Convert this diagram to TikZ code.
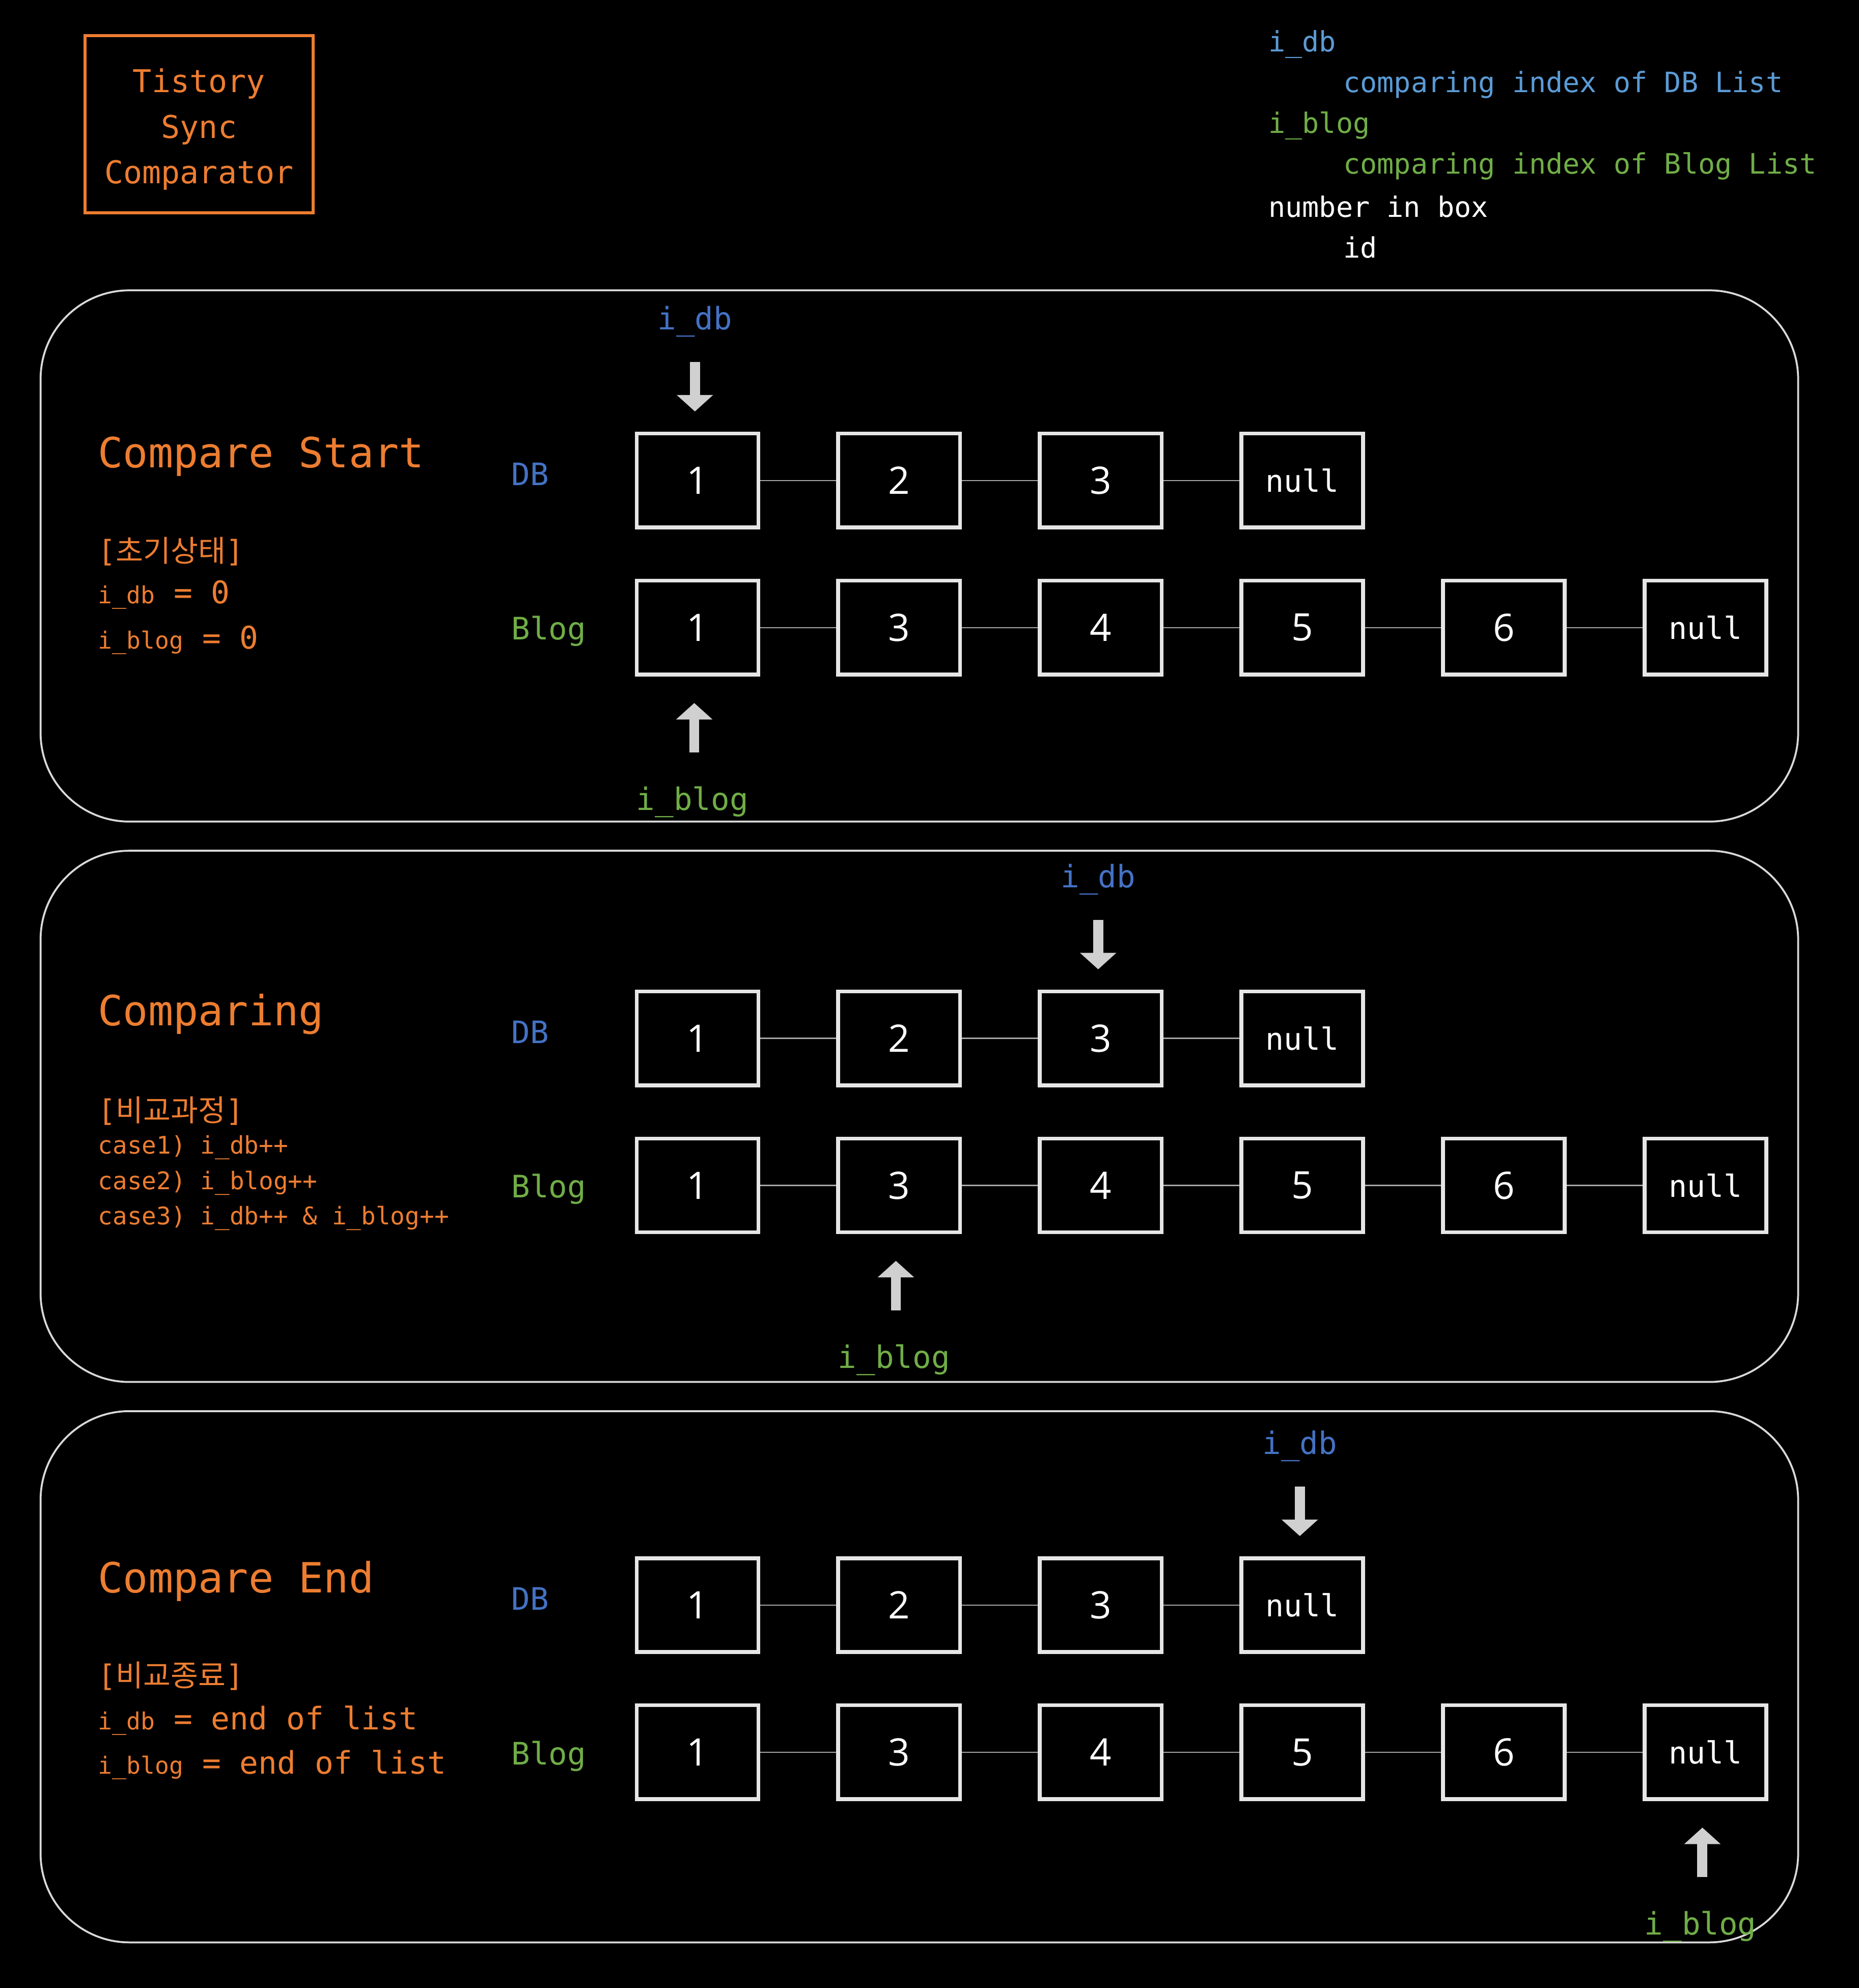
\documentclass[tikz,border=0pt]{standalone}
\usepackage{fontspec}
\setmonofont{DejaVu Sans Mono}
\newfontfamily\krfont{Noto Sans CJK KR}
\newfontfamily\numfont{Open Sans}
\usetikzlibrary{arrows.meta}
\definecolor{orng}{HTML}{ED7D31}
\definecolor{dbblue}{HTML}{4472C4}
\definecolor{legblue}{HTML}{5B9BD5}
\definecolor{bloggreen}{HTML}{70AD47}
\definecolor{panelgray}{HTML}{D9D9D9}
\definecolor{cellgray}{HTML}{E6E6E6}
\definecolor{linkgray}{HTML}{A6A6A6}
\definecolor{ptrgray}{HTML}{D0D0D0}
\newcommand\kr[1]{{\krfont #1}}
\newcommand\smtxt[1]{{\fontsize{10.6}{13}\selectfont #1}}
\newcommand\nul{{\ttfamily\fontsize{13.7}{16}\selectfont null}}

\begin{document}
\begin{tikzpicture}[x=0.02cm, y=-0.02cm,
    panel/.style={draw=panelgray, line width=0.03cm, rounded corners=1.4cm},
    cell/.style={draw=cellgray, line width=0.06cm, minimum width=1.92cm, minimum height=1.48cm, inner sep=0pt, text=white, font=\numfont\fontsize{17}{20}\selectfont},
    link/.style={draw=linkgray, line width=0.02cm},
    ptr/.style={draw=ptrgray, line width=0.16cm, -{Triangle[width=0.56cm,length=0.26cm]}},
    idx/.style={inner sep=0pt, font=\ttfamily\fontsize{13.9}{16}\selectfont},
    lst/.style={anchor=west, inner sep=0pt, font=\ttfamily\fontsize{13.9}{16}\selectfont},
    head/.style={anchor=west, inner sep=0pt, text=orng, font=\ttfamily\fontsize{18.7}{22}\selectfont},
    note/.style={anchor=west, inner sep=0pt, text=orng, font=\ttfamily\fontsize{14}{17}\selectfont},
    legend/.style={anchor=west, inner sep=0pt, font=\ttfamily\fontsize{12.6}{15}\selectfont}]
  % background
  \fill[black] (0,0) rectangle (1466,1568);
  \useasboundingbox (0,0) rectangle (1466,1568);

  % title and legend
  \node[draw=orng, line width=0.05cm, minimum width=3.6cm, minimum height=2.8cm] (title) at (157,98) {};
  \node[align=center, text=orng, inner sep=0pt, font=\ttfamily\fontsize{14.1}{20.4}\selectfont] (ttl) at (157,102) {Tistory\\Sync\\Comparator};
  \node[legend, text=legblue] (lg1) at (1000,35) {i\_db};
  \node[legend, text=legblue] (lg2) at (1059,67) {comparing index of DB List};
  \node[legend, text=bloggreen] (lg3) at (1000,99) {i\_blog};
  \node[legend, text=bloggreen] (lg4) at (1059,131) {comparing index of Blog List};
  \node[legend, text=white] (lg5) at (1000,163) {number in box};
  \node[legend, text=white] (lg6) at (1059,195) {id};

  % panels with the two lists
  \foreach \top/\p/\dy/\by in {229/1/379/495, 671/2/819/935, 1113/3/1266/1382} {
    \draw[panel] (32,\top) rectangle (1418,\top+419);
    \node[lst, text=dbblue] (ldb\p) at (403,\dy-5) {DB};
    \node[lst, text=bloggreen] (lbl\p) at (403,\by+3) {Blog};
    \foreach \v [count=\i] in {1,2,3,\nul}
      \node[cell] (d\p\i) at (391+159*\i,\dy) {\raisebox{-0.05cm}{\v}};
    \foreach \v [count=\i] in {1,3,4,5,6,\nul}
      \node[cell] (b\p\i) at (391+159*\i,\by) {\raisebox{-0.05cm}{\v}};
    \foreach \i [evaluate=\i as \j using int(\i+1)] in {1,2,3}
      \draw[link] (d\p\i) -- (d\p\j);
    \foreach \i [evaluate=\i as \j using int(\i+1)] in {1,...,5}
      \draw[link] (b\p\i) -- (b\p\j);
  }

  % index pointers
  \foreach \p/\a/\b in {1/1/1, 2/3/2, 3/4/6} {
    \node[idx, text=dbblue, yshift=1.74cm, xshift=-0.04cm] (pd\p) at (d\p\a.north) {i\_db};
    \draw[ptr, shorten <=0.64cm, shorten >=0.32cm] (pd\p.center) -- (pd\p.center |- d\p\a.north);
    \node[idx, text=bloggreen, yshift=-1.98cm, xshift=-0.08cm] (pb\p) at (b\p\b.south) {i\_blog};
    \draw[ptr, shorten <=0.78cm, shorten >=0.42cm] (pb\p.center) ++(0.03cm,0) coordinate (pt\p) -- (pt\p |- b\p\b.south);
  }

  % panel texts
  \node[head] (hd1) at (77,360) {Compare Start};
  \node[note, font=\ttfamily\fontsize{13.4}{15}\selectfont] (nt11) at (77,435) {[\kr{초기상태}]};
  \node[note] (nt12) at (77,469) {\smtxt{i\_db} = 0};
  \node[note] (nt13) at (77,505) {\smtxt{i\_blog} = 0};

  \node[head] (hd2) at (77,800) {Comparing};
  \node[note, font=\ttfamily\fontsize{13.4}{15}\selectfont] (nt21) at (77,876) {[\kr{비교과정}]};
  \node[note, font=\ttfamily\fontsize{10.9}{13}\selectfont] (nt22) at (77,905) {case1) i\_db++};
  \node[note, font=\ttfamily\fontsize{10.9}{13}\selectfont] (nt23) at (77,933) {case2) i\_blog++};
  \node[note, font=\ttfamily\fontsize{10.9}{13}\selectfont] (nt24) at (77,961) {case3) i\_db++ \& i\_blog++};

  \node[head] (hd3) at (77,1247) {Compare End};
  \node[note, font=\ttfamily\fontsize{13.4}{15}\selectfont] (nt31) at (77,1322) {[\kr{비교종료}]};
  \node[note] (nt32) at (77,1357) {\smtxt{i\_db} = end of list};
  \node[note] (nt33) at (77,1392) {\smtxt{i\_blog} = end of list};
\end{tikzpicture}
\end{document}
